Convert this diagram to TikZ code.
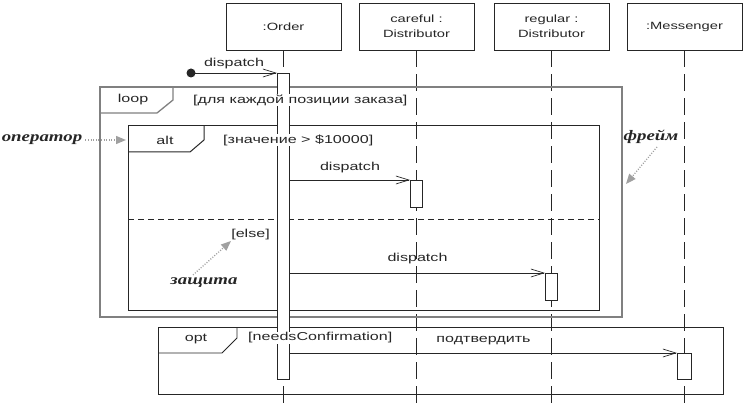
\documentclass[tikz,border=0pt]{standalone}
\usepackage{fontspec}
\setmainfont{Liberation Sans}[FakeStretch=1.4]
\newfontfamily\notefont{Liberation Serif}[FakeStretch=1.3]
\usetikzlibrary{arrows.meta}
\definecolor{ink}{HTML}{262626}
\definecolor{notegray}{HTML}{A0A0A0}

\begin{document}
\begin{tikzpicture}[x=1pt,y=-1pt,
  every node/.style={inner sep=0pt,text=ink,font=\fontsize{11.5}{13}\selectfont},
  head/.style={draw=ink,fill=white,line width=0.9pt,minimum width=115pt,minimum height=47pt,align=center,font=\fontsize{10.5}{15}\selectfont},
  bar/.style={draw=ink,fill=white,line width=0.9pt,minimum width=12pt},
  guard/.style={anchor=west,fill=white,inner sep=1pt},
  life/.style={draw=ink,line width=0.9pt,dash pattern=on 17pt off 7pt},
  msg/.style={draw=ink,line width=0.7pt,-{Straight Barb[length=13pt,width=8pt,line width=0.7pt]}},
  note/.style={font=\notefont\bfseries\itshape\fontsize{14.5}{16}\selectfont},
  hint/.style={draw=notegray,line width=1.3pt,dash pattern=on 1pt off 1.6pt,-{Triangle[length=10pt,width=8pt]}}]
\useasboundingbox (0,0) rectangle (747,406);
\coordinate (bottom) at (0,406);

\node[head] (order) at (283.5,26.5) {:Order};
\node[head] (careful) at (416.5,26.5) {careful :\\Distributor};
\node[head] (regular) at (551.5,26.5) {regular :\\Distributor};
\node[head] (messenger) at (684.5,26.5) {:Messenger};

\foreach \h in {order,careful,regular,messenger}
  \draw[life] (\h.south) -- (\h.south |- bottom);

% loop
\draw[draw=gray,line width=1.3pt] (100,87) rectangle (622,317);
\draw[draw=gray,line width=1.3pt] (100,113) -- (157,113) -- (173,100) -- (173,87);
\node (looplbl) at (133,100) {loop};

% alt
\draw[draw=ink,line width=1pt] (128,126) rectangle (599,310);
\draw[draw=ink,line width=1pt] (128,152) -- (190,152) -- (204,140) -- (204,126);
\node (altlbl) at (165,140) {alt};
\draw[draw=ink,line width=0.9pt,dash pattern=on 6pt off 4pt] (128,219) -- (599,219);
\node[anchor=east] (elseguard) at (270,235) {[else]};

% opt
\draw[draw=ink,line width=0.9pt] (158,327) rectangle (723,394);
\draw[draw=ink,line width=0.9pt] (158,353) -- (222,353) -- (237,338) -- (237,327);
\node (optlbl) at (196,339) {opt};

\node[bar,anchor=north,minimum height=306pt] (ordbar) at (283.5,73) {};
\node[bar,anchor=north,minimum height=27pt] (carbar) at (416.5,180) {};
\node[bar,anchor=north,minimum height=27pt] (regbar) at (551.5,273) {};
\node[bar,anchor=north,minimum height=26pt,minimum width=14pt] (mesbar) at (684.5,353) {};

\node[guard] (loopguard) at (192,100) {[для каждой позиции заказа]};
\node[guard] (altguard) at (222,140) {[значение > \$10000]};
\node[guard] (optguard) at (247,338) {[needsConfirmation]};

\coordinate (found) at (191,73);
\fill[ink] (found) circle (4.5pt);
\draw[msg] (found) -- (ordbar.north west) node[midway,above=4pt] (m1) {dispatch};
\draw[msg] (ordbar.east |- carbar.north) -- (carbar.north west) node[midway,above=7pt] (m2) {dispatch};
\draw[msg] (ordbar.east |- regbar.north) -- (regbar.north west) node[midway,above=9pt] (m3) {dispatch};
\draw[msg] (ordbar.east |- mesbar.north) -- (mesbar.north west) node[midway,above=8pt] (m4) {подтвердить};

\node[note] (opnote) at (42,140) {оператор};
\coordinate (altedge) at (126,140);
\draw[hint,shorten <=3pt] (opnote) -- (altedge);
\node[note] (framenote) at (651,137) {фрейм};
\coordinate (loopedge) at (626,184);
\draw[hint] ([xshift=6pt,yshift=-3pt]framenote.south) -- (loopedge);
\node[note] (guardnote) at (204,283) {защита};
\coordinate (elsemark) at (231,241);
\draw[hint] ([xshift=-11pt,yshift=3pt]guardnote.north) -- (elsemark);
\end{tikzpicture}
\end{document}
